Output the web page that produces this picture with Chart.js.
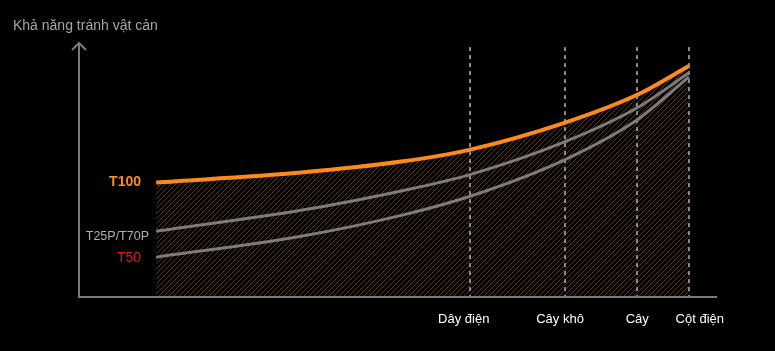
<!doctype html>
<html lang="vi">
  <head>
    <meta charset="utf-8">
    <title>Khả năng tránh vật cản</title>
    <style>
      * { margin: 0; padding: 0; }
      body { background: #000; width: 775px; height: 351px; overflow: hidden; }
      canvas { display: block; }
    </style>
  </head>
  <body>
    <canvas id="myChart" width="775" height="351"></canvas>
    <script src="https://cdn.jsdelivr.net/npm/chart.js"></script>
    <script>
    // data (x in 0..100 along the axis, y in 0..100 up the arrow)
    const xPoints = [12.1, 34.8, 50.5, 61.3, 76.2, 87.5, 95.6];
    const t100 = [44.9, 48.8, 53.1, 57.8, 68.4, 79.3, 90.6];
    const t25p = [25.8, 34.0, 41.6, 48.0, 60.9, 74.2, 87.9];
    const t50  = [15.6, 23.8, 32.0, 39.5, 53.9, 69.5, 86.3];
    const seriesNames = ['T100', 'T25P/T70P', 'T50'];
    const obstacles = ['Dây điện', 'Cây khô', 'Cây', 'Cột điện'];
    const obstacleX = [61.3, 76.2, 87.5, 95.6];
    const labelOffset = [-1, -0.8, 0, 1.7];

    const FONT = '"Liberation Sans", Arial, sans-serif';

    // hatch pattern
    const pc = document.createElement('canvas');
    pc.width = 5; pc.height = 5;
    const px = pc.getContext('2d');
    px.fillStyle = '#030201';
    px.fillRect(0, 0, 5, 5);
    px.strokeStyle = '#56361a';
    px.lineWidth = 1;
    px.beginPath();
    px.moveTo(-1, 6); px.lineTo(6, -1);
    px.moveTo(-1, 1); px.lineTo(1, -1);
    px.moveTo(4, 6); px.lineTo(6, 4);
    px.stroke();
    const hatch = px.createPattern(pc, 'repeat');

    const toXY = arr => arr.map((v, i) => ({x: xPoints[i], y: v}));

    const decor = {
      id: 'decor',
      beforeDraw(chart) {
        const c = chart.ctx;
        c.save();
        c.fillStyle = '#000';
        c.fillRect(0, 0, chart.width, chart.height);
        c.restore();
      },
      beforeDatasetsDraw(chart) {
        const c = chart.ctx;
        const xs = chart.scales.x, ys = chart.scales.y;
        c.save();
        c.strokeStyle = '#8a8a8a';
        c.lineWidth = 2;
        c.setLineDash([4, 4]);
        obstacleX.forEach(v => {
          const x = Math.round(xs.getPixelForValue(v));
          c.beginPath();
          c.moveTo(x, ys.getPixelForValue(98));
          c.lineTo(x, ys.getPixelForValue(0));
          c.stroke();
        });
        c.restore();
      },
      afterDatasetsDraw(chart) {
        const c = chart.ctx;
        const xs = chart.scales.x, ys = chart.scales.y;
        const left = xs.getPixelForValue(0), bottom = ys.getPixelForValue(0);
        const top = ys.getPixelForValue(100), right = xs.getPixelForValue(100);
        c.save();
        // axes
        c.strokeStyle = '#7a7a7a';
        c.lineWidth = 2;
        c.beginPath();
        c.moveTo(left, top + 1);
        c.lineTo(left, bottom);
        c.lineTo(right, bottom);
        c.moveTo(left - 7, top + 8);
        c.lineTo(left, top + 1);
        c.lineTo(left + 7, top + 8);
        c.stroke();

        // title
        c.fillStyle = '#a6a6a6';
        c.font = '14px ' + FONT;
        c.textAlign = 'left';
        c.textBaseline = 'middle';
        c.fillText('Khả năng tránh vật cản', 13, 26);

        // series labels
        const starts = [t100[0], t25p[0] - 2, t50[0] - 0.2];
        const colors = ['#ff8a1c', '#b0b0b0', '#e0191c'];
        const fonts = ['bold 14px ' + FONT, '12.5px ' + FONT, '14px ' + FONT];
        const ends = [141, 149, 141];
        c.textAlign = 'right';
        seriesNames.forEach((n, i) => {
          c.fillStyle = colors[i];
          c.font = fonts[i];
          c.fillText(n, ends[i], ys.getPixelForValue(starts[i]));
        });

        // obstacle labels
        c.fillStyle = '#ffffff';
        c.font = '13px ' + FONT;
        c.textAlign = 'center';
        obstacles.forEach((n, i) => {
          c.fillText(n, xs.getPixelForValue(obstacleX[i] + labelOffset[i]), bottom + 22);
        });
        c.restore();
      }
    };

    const config = {
      type: 'line',
      data: {
        datasets: [{
          label: seriesNames[2],
          data: toXY(t50),
          borderColor: '#7c7c7c',
          borderWidth: 3,
          fill: false
        }, {
          label: seriesNames[1],
          data: toXY(t25p),
          borderColor: '#7c7c7c',
          borderWidth: 3,
          fill: false
        }, {
          label: seriesNames[0],
          data: toXY(t100),
          borderColor: '#ff8a1c',
          borderWidth: 4,
          backgroundColor: hatch,
          fill: 'origin'
        }]
      },
      options: {
        responsive: false,
        animation: false,
        layout: { padding: { left: 79, right: 58, top: 42, bottom: 54 } },
        elements: {
          point: { radius: 0 },
          line: { cubicInterpolationMode: 'monotone', borderCapStyle: 'butt' }
        },
        scales: {
          x: { type: 'linear', min: 0, max: 100, display: false },
          y: { type: 'linear', min: 0, max: 100, display: false }
        },
        plugins: {
          legend: { display: false },
          tooltip: { enabled: false },
          filler: { drawTime: 'beforeDatasetsDraw' }
        }
      },
      plugins: [decor]
    };

    new Chart(document.getElementById('myChart'), config);
    </script>
  </body>
</html>
